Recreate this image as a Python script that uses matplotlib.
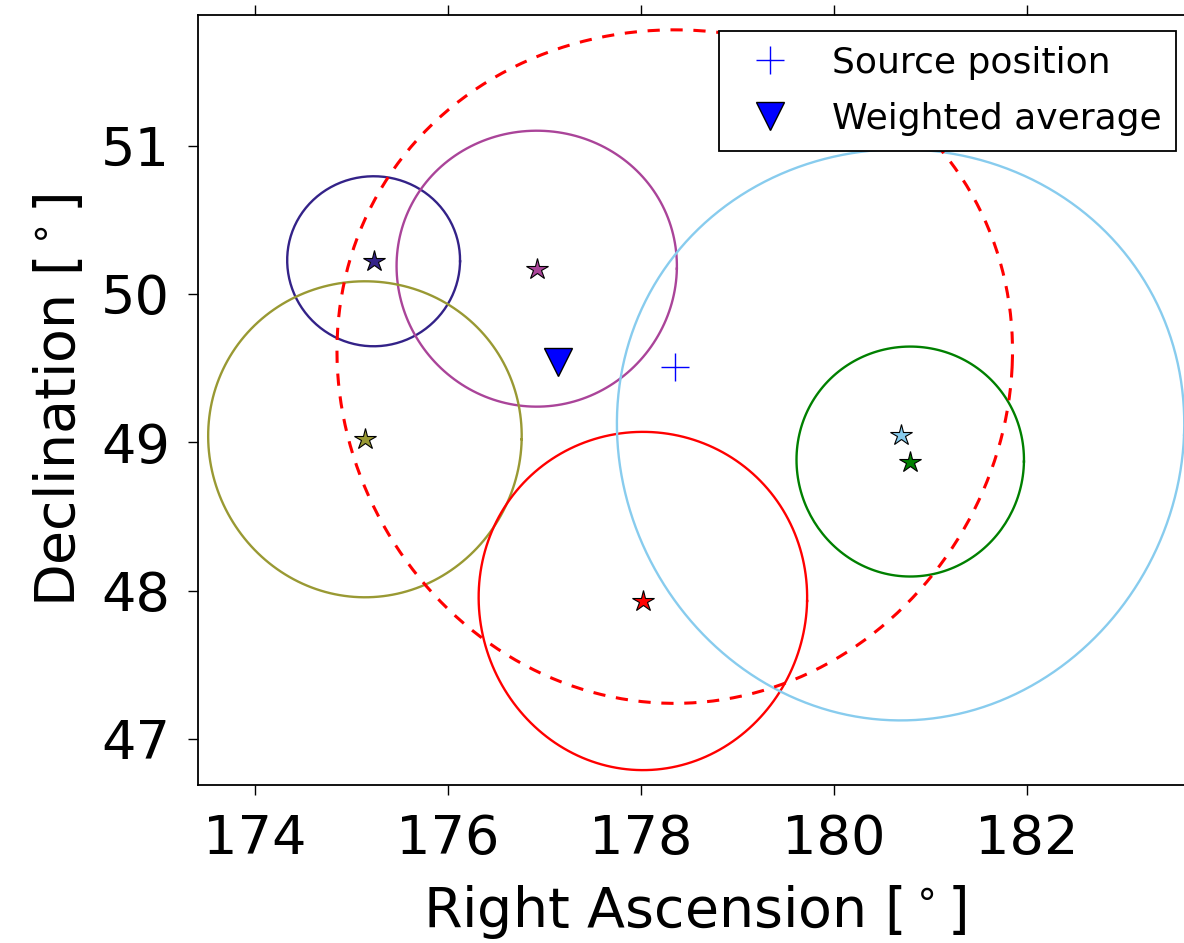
import numpy as np
import matplotlib
matplotlib.use('Agg')
import matplotlib.pyplot as plt

# error circles: centre RA, centre Dec, radius (deg), colour
ra_c = [175.23, 176.92, 175.14, 178.02, 180.69, 180.79]
dec_c = [50.22, 50.17, 49.02, 47.93, 49.05, 48.87]
rad = [0.573, 0.93, 1.065, 1.14, 1.925, 0.775]
colours = ['#332288', '#AA4499', '#999933', 'red', '#88CCEE', 'green']

src_ra, src_dec, src_rad = 178.35, 49.51, 2.27
avg_ra, avg_dec = 177.14, 49.54

xticks = [174, 176, 178, 180, 182]
yticks = [47, 48, 49, 50, 51]


def sky_circle(ra0, dec0, r, n=200):
    t = np.linspace(0, 2 * np.pi, n)
    dec = dec0 + r * np.sin(t)
    ra = ra0 + r * np.cos(t) / np.cos(np.radians(dec))
    return ra, dec


fig = plt.figure(figsize=(11.84, 9.43), dpi=100)
ax = fig.add_axes([0.1672, 0.1676, 0.8396, 0.8165])

for ra0, dec0, r, col in zip(ra_c, dec_c, rad, colours):
    x, y = sky_circle(ra0, dec0, r)
    ax.plot(x, y, color=col, lw=1.7)
    ax.plot(ra0, dec0, marker='*', ms=16, color=col, mec='black', mew=0.8, ls='none')

x, y = sky_circle(src_ra, src_dec, src_rad)
ax.plot(x, y, color='red', lw=2.2, ls=(0, (4, 3.5)))

ax.plot(src_ra, src_dec, marker='+', ms=20, color='blue', mew=1, ls='none', label='Source position')
ax.plot(avg_ra, avg_dec, marker='v', ms=20, color='blue', mec='black', mew=1, ls='none',
        label='Weighted average')

ax.set_xlim(173.41, 183.71)
ax.set_ylim(46.69, 51.88)
ax.set_xticks(xticks)
ax.set_yticks(yticks)
ax.tick_params(axis='both', which='major', direction='out', length=7, width=1,
               labelsize=39, top=True, right=True)
ax.tick_params(axis='x', pad=13)
ax.tick_params(axis='y', pad=13)
for s in ax.spines.values():
    s.set_linewidth(1.3)

ax.set_xlabel(r'Right Ascension [$^\circ$]', fontsize=40, labelpad=13)
ax.set_ylabel(r'Declination [$^\circ$]', fontsize=40, labelpad=10)

leg = ax.legend(loc='upper right', numpoints=1, fontsize=26, fancybox=False,
                framealpha=1, borderaxespad=0.45, handlelength=2.05, handletextpad=0.68,
                labelspacing=0.62, borderpad=0.4)
leg.get_frame().set_edgecolor('black')
leg.get_frame().set_linewidth(1.3)

fig.savefig('out.png', dpi=100)
